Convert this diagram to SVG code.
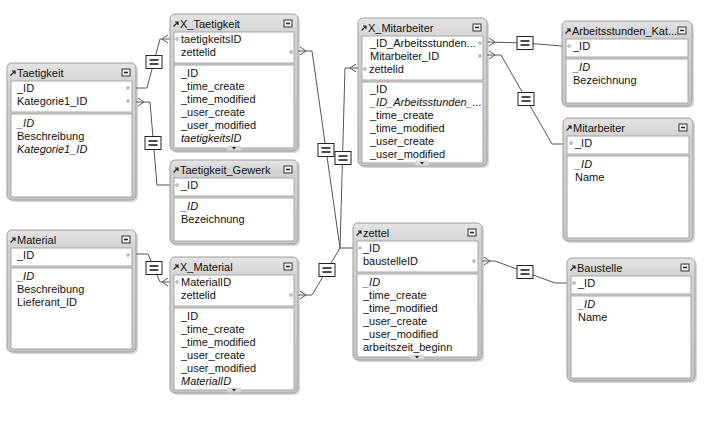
<svg xmlns="http://www.w3.org/2000/svg" xmlns:xlink="http://www.w3.org/1999/xlink" width="705" height="432" viewBox="0 0 705 432">
<defs>
<linearGradient id="fg" x1="0" y1="0" x2="0" y2="1">
<stop offset="0" stop-color="#e4e4e4"/>
<stop offset="0.15" stop-color="#d2d2d2"/>
<stop offset="1" stop-color="#c6c6c6"/>
</linearGradient>
<path id="cf" d="M0,-4 L6,0 L0,4" fill="none" stroke="#555" stroke-width="1"/>
<g id="eq"><rect x="-8" y="-6.5" width="16" height="13" fill="#fff" stroke="#222" stroke-width="1"/><path d="M-4.5,-2 H4.5 M-4.5,2 H4.5" stroke="#111" stroke-width="1.4"/></g>
<g id="sc"><rect x="-7" y="-2.5" width="14" height="5" rx="1" fill="#d8d8d8"/><path d="M-2,-1 H2 L0,1.5 Z" fill="#222"/></g>
</defs>
<style>
.sh{fill:#000;opacity:0.15}
.fr{fill:url(#fg);stroke:#9e9e9e;stroke-width:1}
.kb{fill:#fff;stroke:#a6a6a6;stroke-width:1}
.t{font-family:"Liberation Sans",Arial,sans-serif;font-size:11px;fill:#111}
.i{font-style:italic}
.dot{fill:none;stroke:#888;stroke-width:0.8}
.ar{fill:none;stroke:#222;stroke-width:1.2}
.mn{fill:#f4f4f4;stroke:#333;stroke-width:1}
.mnl{stroke:#222;stroke-width:1.5}
.ln{fill:none;stroke:#555;stroke-width:1}
</style>
<rect width="705" height="432" fill="#fff"/>

<g id="connectors">
<polyline class="ln" points="136,88 147,88 160,39 170,39"/>
<use xlink:href="#cf" transform="translate(168,39) scale(-1,1)"/>
<use xlink:href="#eq" x="154" y="62"/>

<polyline class="ln" points="136,102 150,102 157,185 170,185"/>
<use xlink:href="#cf" transform="translate(138,102)"/>
<use xlink:href="#eq" x="153" y="143"/>

<polyline class="ln" points="298,51 312,51 340,248 353,248"/>
<use xlink:href="#cf" transform="translate(300,51)"/>
<use xlink:href="#eq" x="326" y="150"/>

<polyline class="ln" points="358,68 345,68 340,248"/>
<use xlink:href="#cf" transform="translate(356,68) scale(-1,1)"/>
<use xlink:href="#eq" x="343" y="158"/>

<polyline class="ln" points="298,295 312,295 340,248"/>
<use xlink:href="#cf" transform="translate(300,295)"/>
<use xlink:href="#eq" x="327" y="270"/>

<polyline class="ln" points="487,42 525,43 562,46"/>
<use xlink:href="#cf" transform="translate(489,42)"/>
<use xlink:href="#eq" x="525" y="43"/>

<polyline class="ln" points="487,55 501,55 552,144 563,144"/>
<use xlink:href="#cf" transform="translate(489,55)"/>
<use xlink:href="#eq" x="526" y="99"/>

<polyline class="ln" points="482,261 495,261 555,283 567,283"/>
<use xlink:href="#cf" transform="translate(484,261)"/>
<use xlink:href="#eq" x="525" y="272"/>

<polyline class="ln" points="136,254 148,254 160,282 170,282"/>
<use xlink:href="#cf" transform="translate(168,282) scale(-1,1)"/>
<use xlink:href="#eq" x="154" y="268"/>
</g>

<g id="Taetigkeit" transform="translate(7,63)">
<rect class="sh" x="2" y="2" width="129" height="137" rx="5"/>
<rect class="fr" width="129" height="137" rx="5"/>
<path class="ar" d="M3.5,12.5 L8,8 M5,8 H8 V11"/>
<text class="t" x="10" y="14">Taetigkeit</text>
<rect class="mn" x="115" y="6" width="8" height="7"/><path class="mnl" d="M117,9.5 H121"/>
<rect class="kb" x="4" y="18" width="121" height="31"/>
<text class="t" x="10" y="29">_ID</text>
<text class="t" x="10" y="42">Kategorie1_ID</text>
<circle class="dot" cx="121" cy="25" r="1.3"/>
<circle class="dot" cx="121" cy="38" r="1.3"/>
<rect class="kb" x="4" y="51" width="121" height="83"/>
<text class="t i" x="10" y="64">_ID</text>
<text class="t" x="10" y="77">Beschreibung</text>
<text class="t i" x="10" y="90">Kategorie1_ID</text>
</g>

<g id="X_Taetigkeit" transform="translate(170,14)">
<rect class="sh" x="2" y="2" width="128" height="137" rx="5"/>
<rect class="fr" width="128" height="137" rx="5"/>
<path class="ar" d="M3.5,12.5 L8,8 M5,8 H8 V11"/>
<text class="t" x="10" y="14">X_Taetigkeit</text>
<rect class="mn" x="114" y="6" width="8" height="7"/><path class="mnl" d="M116,9.5 H120"/>
<rect class="kb" x="4" y="18" width="120" height="31"/>
<circle class="dot" cx="7" cy="25" r="1.3"/>
<text class="t" x="11" y="29">taetigkeitsID</text>
<text class="t" x="11" y="42">zettelid</text>
<circle class="dot" cx="121" cy="38" r="1.3"/>
<rect class="kb" x="4" y="51" width="120" height="83"/>
<text class="t" x="11" y="63">_ID</text>
<text class="t" x="11" y="76">_time_create</text>
<text class="t" x="11" y="89">_time_modified</text>
<text class="t" x="11" y="102">_user_create</text>
<text class="t" x="11" y="115">_user_modified</text>
<text class="t i" x="11" y="128">taetigkeitsID</text>
<use xlink:href="#sc" x="64" y="134"/>
</g>

<g id="Taetigkeit_Gewerk" transform="translate(170,160)">
<rect class="sh" x="2" y="2" width="128" height="84" rx="5"/>
<rect class="fr" width="128" height="84" rx="5"/>
<path class="ar" d="M3.5,12.5 L8,8 M5,8 H8 V11"/>
<text class="t" x="10" y="14">Taetigkeit_Gewerk</text>
<rect class="mn" x="114" y="6" width="8" height="7"/><path class="mnl" d="M116,9.5 H120"/>
<rect class="kb" x="4" y="18" width="120" height="18"/>
<circle class="dot" cx="7" cy="25" r="1.3"/>
<text class="t" x="11" y="29">_ID</text>
<rect class="kb" x="4" y="38" width="120" height="43"/>
<text class="t i" x="11" y="50">_ID</text>
<text class="t" x="11" y="63">Bezeichnung</text>
</g>

<g id="Material" transform="translate(7,230)">
<rect class="sh" x="2" y="2" width="129" height="122" rx="5"/>
<rect class="fr" width="129" height="122" rx="5"/>
<path class="ar" d="M3.5,12.5 L8,8 M5,8 H8 V11"/>
<text class="t" x="10" y="14">Material</text>
<rect class="mn" x="115" y="6" width="8" height="7"/><path class="mnl" d="M117,9.5 H121"/>
<rect class="kb" x="4" y="18" width="121" height="18"/>
<text class="t" x="10" y="29">_ID</text>
<circle class="dot" cx="121" cy="25" r="1.3"/>
<rect class="kb" x="4" y="38" width="121" height="81"/>
<text class="t i" x="10" y="50">_ID</text>
<text class="t" x="10" y="63">Beschreibung</text>
<text class="t" x="10" y="76">Lieferant_ID</text>
</g>

<g id="X_Material" transform="translate(170,257)">
<rect class="sh" x="2" y="2" width="128" height="136" rx="5"/>
<rect class="fr" width="128" height="136" rx="5"/>
<path class="ar" d="M3.5,12.5 L8,8 M5,8 H8 V11"/>
<text class="t" x="10" y="14">X_Material</text>
<rect class="mn" x="114" y="6" width="8" height="7"/><path class="mnl" d="M116,9.5 H120"/>
<rect class="kb" x="4" y="18" width="120" height="31"/>
<circle class="dot" cx="7" cy="25" r="1.3"/>
<text class="t" x="11" y="29">MaterialID</text>
<text class="t" x="11" y="42">zettelid</text>
<circle class="dot" cx="121" cy="38" r="1.3"/>
<rect class="kb" x="4" y="51" width="120" height="82"/>
<text class="t" x="11" y="63">_ID</text>
<text class="t" x="11" y="76">_time_create</text>
<text class="t" x="11" y="89">_time_modified</text>
<text class="t" x="11" y="102">_user_create</text>
<text class="t" x="11" y="115">_user_modified</text>
<text class="t i" x="11" y="128">MaterialID</text>
<use xlink:href="#sc" x="64" y="133"/>
</g>

<g id="X_Mitarbeiter" transform="translate(358,18)">
<rect class="sh" x="2" y="2" width="129" height="148" rx="5"/>
<rect class="fr" width="129" height="148" rx="5"/>
<path class="ar" d="M3.5,12.5 L8,8 M5,8 H8 V11"/>
<text class="t" x="10" y="14">X_Mitarbeiter</text>
<rect class="mn" x="115" y="6" width="8" height="7"/><path class="mnl" d="M117,9.5 H121"/>
<rect class="kb" x="4" y="18" width="121" height="44"/>
<text class="t" x="12" y="29">_ID_Arbeitsstunden...</text>
<text class="t" x="12" y="42">Mitarbeiter_ID</text>
<circle class="dot" cx="7" cy="51" r="1.3"/>
<text class="t" x="11" y="55">zettelid</text>
<circle class="dot" cx="122" cy="25" r="1.3"/>
<circle class="dot" cx="122" cy="38" r="1.3"/>
<rect class="kb" x="4" y="64" width="121" height="81"/>
<text class="t" x="12" y="75">_ID</text>
<text class="t i" x="12" y="88">_ID_Arbeitsstunden_...</text>
<text class="t" x="12" y="101">_time_create</text>
<text class="t" x="12" y="114">_time_modified</text>
<text class="t" x="12" y="127">_user_create</text>
<text class="t" x="12" y="140">_user_modified</text>
<use xlink:href="#sc" x="64" y="145"/>
</g>

<g id="Arbeitsstunden_Kat" transform="translate(562,21)">
<rect class="sh" x="2" y="2" width="130" height="85" rx="5"/>
<rect class="fr" width="130" height="85" rx="5"/>
<path class="ar" d="M3.5,12.5 L8,8 M5,8 H8 V11"/>
<text class="t" x="10" y="14">Arbeitsstunden_Kat...</text>
<rect class="mn" x="116" y="6" width="8" height="7"/><path class="mnl" d="M118,9.5 H122"/>
<rect class="kb" x="4" y="18" width="122" height="18"/>
<circle class="dot" cx="7" cy="25" r="1.3"/>
<text class="t" x="11" y="29">_ID</text>
<rect class="kb" x="4" y="38" width="122" height="44"/>
<text class="t i" x="11" y="50">_ID</text>
<text class="t" x="11" y="63">Bezeichnung</text>
</g>

<g id="Mitarbeiter" transform="translate(563,118)">
<rect class="sh" x="2" y="2" width="130" height="123" rx="5"/>
<rect class="fr" width="130" height="123" rx="5"/>
<path class="ar" d="M3.5,12.5 L8,8 M5,8 H8 V11"/>
<text class="t" x="10" y="14">Mitarbeiter</text>
<rect class="mn" x="116" y="6" width="8" height="7"/><path class="mnl" d="M118,9.5 H122"/>
<rect class="kb" x="4" y="18" width="122" height="18"/>
<circle class="dot" cx="8" cy="25" r="1.3"/>
<text class="t" x="12" y="29">_ID</text>
<rect class="kb" x="4" y="38" width="122" height="82"/>
<text class="t i" x="12" y="50">_ID</text>
<text class="t" x="12" y="63">Name</text>
</g>

<g id="zettel" transform="translate(353,223)">
<rect class="sh" x="2" y="2" width="129" height="137" rx="5"/>
<rect class="fr" width="129" height="137" rx="5"/>
<path class="ar" d="M3.5,12.5 L8,8 M5,8 H8 V11"/>
<text class="t" x="10" y="14">zettel</text>
<rect class="mn" x="115" y="6" width="8" height="7"/><path class="mnl" d="M117,9.5 H121"/>
<rect class="kb" x="4" y="18" width="121" height="31"/>
<circle class="dot" cx="7" cy="25" r="1.3"/>
<text class="t" x="10" y="29">_ID</text>
<text class="t" x="10" y="42">baustelleID</text>
<circle class="dot" cx="121" cy="38" r="1.3"/>
<rect class="kb" x="4" y="51" width="121" height="83"/>
<text class="t i" x="10" y="63">_ID</text>
<text class="t" x="10" y="76">_time_create</text>
<text class="t" x="10" y="89">_time_modified</text>
<text class="t" x="10" y="102">_user_create</text>
<text class="t" x="10" y="115">_user_modified</text>
<text class="t" x="10" y="128">arbeitszeit_beginn</text>
<use xlink:href="#sc" x="64" y="134"/>
</g>

<g id="Baustelle" transform="translate(567,258)">
<rect class="sh" x="2" y="2" width="128" height="123" rx="5"/>
<rect class="fr" width="128" height="123" rx="5"/>
<path class="ar" d="M3.5,12.5 L8,8 M5,8 H8 V11"/>
<text class="t" x="10" y="14">Baustelle</text>
<rect class="mn" x="114" y="6" width="8" height="7"/><path class="mnl" d="M116,9.5 H120"/>
<rect class="kb" x="4" y="18" width="120" height="18"/>
<circle class="dot" cx="7" cy="25" r="1.3"/>
<text class="t" x="11" y="29">_ID</text>
<rect class="kb" x="4" y="38" width="120" height="82"/>
<text class="t i" x="11" y="50">_ID</text>
<text class="t" x="11" y="63">Name</text>
</g>
</svg>
